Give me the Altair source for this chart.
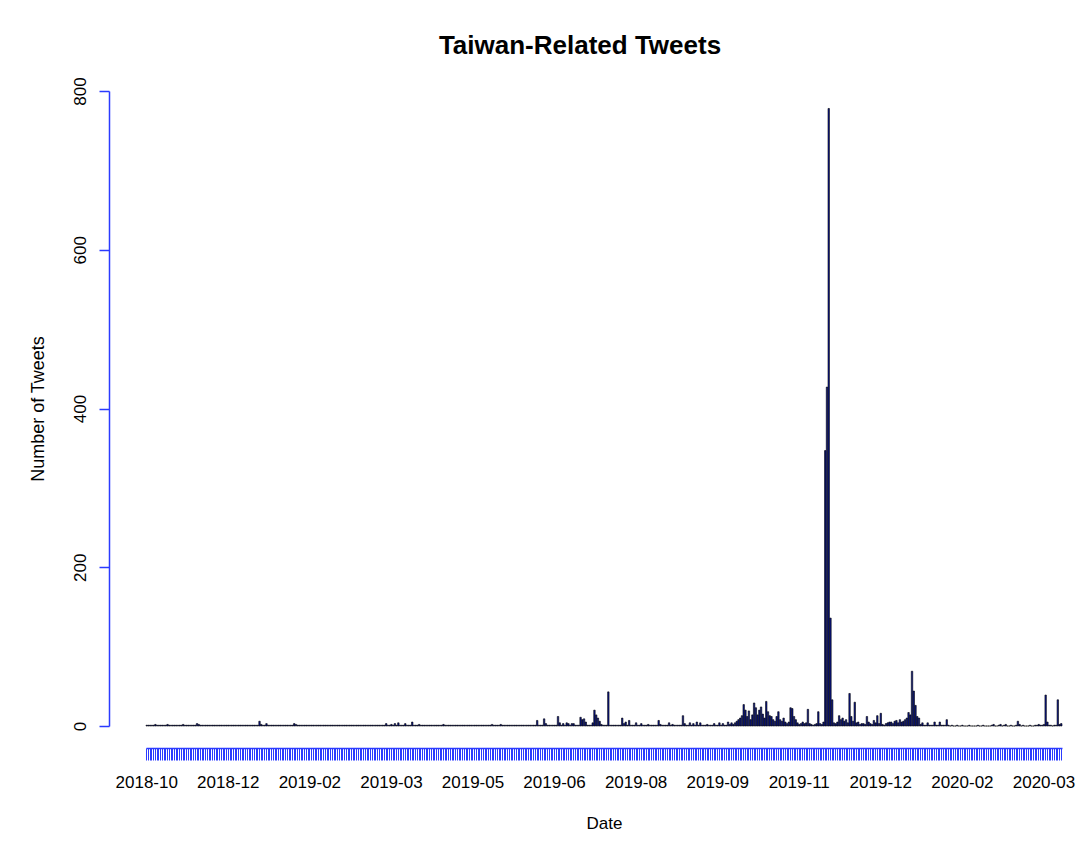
import altair as alt
import pandas as pd

# Daily tweet counts, starting at start_date (one bar per day)
start_date = "2018-10-30"
counts = [
    1,1,1,1,1,2,1,1,1,1,1,1,2,1,1,1,1,1,1,1,1,2,1,1,
    1,1,1,1,1,3,2,1,1,1,1,1,1,1,1,1,1,1,1,1,1,1,1,1,
    1,1,1,1,1,1,1,1,1,1,1,1,1,1,1,1,1,6,2,1,1,3,1,1,
    1,1,1,1,1,1,1,1,1,1,1,1,1,3,2,1,1,1,1,1,1,1,1,1,
    1,1,1,1,1,1,1,1,1,1,1,1,1,1,1,1,1,1,1,1,1,1,1,1,
    1,1,1,1,1,1,1,1,1,1,1,1,1,1,1,1,1,1,3,1,1,2,1,3,
    1,4,1,1,1,3,1,1,1,5,1,1,1,2,1,1,1,1,1,1,1,1,1,1,
    1,1,1,2,1,1,1,1,1,1,1,1,1,1,1,1,1,1,1,1,1,1,1,1,
    1,1,1,1,1,1,1,2,1,1,1,1,2,1,1,1,1,1,1,1,1,1,1,1,
    1,1,1,1,1,1,1,1,1,7,1,1,1,9,3,1,1,1,1,1,1,12,4,1,
    3,1,4,3,1,3,3,1,1,1,11,8,9,5,1,1,1,4,20,14,10,6,2,1,
    1,1,43,1,1,1,1,1,1,1,10,3,5,1,7,1,1,1,4,1,1,3,1,1,
    1,2,1,1,1,1,1,7,2,1,1,1,1,4,1,2,1,1,1,1,1,13,3,1,
    1,4,1,3,1,5,1,4,1,1,1,2,1,1,1,3,1,1,4,1,3,1,1,5,
    2,4,2,4,6,8,10,13,27,20,12,19,8,14,29,23,14,20,24,15,10,31,18,13,
    12,8,6,12,18,8,6,10,5,3,5,23,22,12,8,4,2,3,5,3,4,21,3,2,
    1,2,3,18,3,2,5,347,427,778,136,33,4,3,5,13,8,10,6,8,4,41,12,6,
    30,4,5,2,3,3,2,12,5,3,2,7,4,13,3,16,2,1,3,4,5,5,3,6,
    7,4,8,5,6,8,10,17,14,69,44,26,12,10,2,4,1,1,4,1,1,1,5,1,
    1,5,1,1,1,8,1,0,1,0,0,1,0,0,1,0,0,0,1,0,0,0,0,1,
    0,0,1,0,0,0,0,1,2,0,0,1,2,0,1,2,0,0,1,0,0,1,6,2,
    0,1,0,0,0,1,0,0,1,1,2,1,1,2,39,5,1,1,0,1,1,33,2,3,
]
y_ticks = [0, 200, 400, 600, 800]
label_step = 47

dates = pd.date_range(start_date, periods=len(counts)).strftime("%Y-%m-%d").tolist()
df = pd.DataFrame({"date": dates, "count": counts})
label_dates = dates[::label_step]
label_expr = (
    "indexof([" + ",".join("'" + d + "'" for d in label_dates) + "], datum.value) >= 0"
    " ? slice(datum.value, 0, 7) : ''"
)

FONT = "Liberation Sans"
AXIS_BLUE = "#2b3bff"

chart = (
    alt.Chart(df)
    .mark_bar(fill="#0a1690", stroke="black", strokeWidth=0.6)
    .encode(
        x=alt.X(
            "date:O",
            scale=alt.Scale(paddingInner=0.167, paddingOuter=0),
            axis=alt.Axis(
                title="Date",
                labelExpr=label_expr,
                labelAngle=0,
                labelFont=FONT,
                labelFontSize=17,
                labelColor="black",
                labelPadding=14,
                labelOverlap=False,
                tickSize=12,
                tickColor=AXIS_BLUE,
                tickWidth=1,
                domainColor=AXIS_BLUE,
                domainWidth=1.5,
                offset=22,
                titleFont=FONT,
                titleFontSize=17,
                titleFontWeight="normal",
                titleColor="black",
                titlePadding=25,
                grid=False,
            ),
        ),
        y=alt.Y(
            "count:Q",
            scale=alt.Scale(domain=[0, 800], nice=False),
            axis=alt.Axis(
                title="Number of Tweets",
                values=y_ticks,
                labelAngle=-90,
                labelAlign="center",
                labelBaseline="bottom",
                labelFont=FONT,
                labelFontSize=17,
                labelColor="black",
                labelPadding=10,
                tickSize=10,
                tickColor=AXIS_BLUE,
                tickWidth=1.5,
                domainColor=AXIS_BLUE,
                domainWidth=1.5,
                offset=37,
                titleFont=FONT,
                titleFontSize=18,
                titleFontWeight="normal",
                titleColor="black",
                titlePadding=24,
                grid=False,
            ),
        ),
    )
    .properties(
        width=916,
        height=635,
        title=alt.TitleParams(
            "Taiwan-Related Tweets",
            font=FONT,
            fontSize=26,
            fontWeight="bold",
            color="black",
            anchor="middle",
            frame="group",
            baseline="alphabetic",
            offset=38,
            dx=-24,
            dy=41,
        ),
        autosize=alt.AutoSizeParams(type="none"),
        padding={"left": 146, "top": 91, "right": 19, "bottom": 133},
        background="white",
    )
    .configure_view(stroke=None)
)

chart.save("out.html", embed_options={"renderer": "svg", "actions": False})
